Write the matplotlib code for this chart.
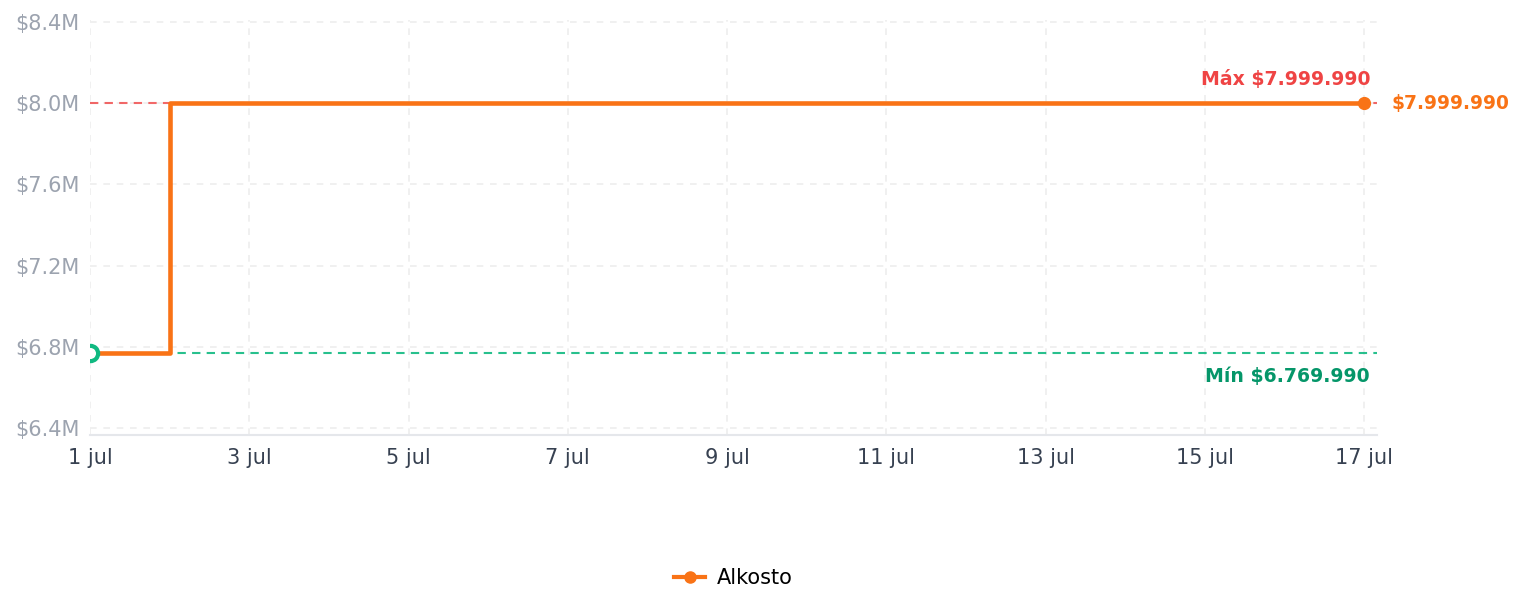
import matplotlib
matplotlib.use("Agg")
import matplotlib.pyplot as plt
import matplotlib.dates as mdates
from matplotlib.lines import Line2D
import pandas as pd

# Data
dates = pd.to_datetime(["2025-07-01", "2025-07-02", "2025-07-17"])
prices = [6769990, 7999990, 7999990]
store = "Alkosto"
min_price = 6769990
max_price = 7999990
yticks = [6.4e6, 6.8e6, 7.2e6, 7.6e6, 8.0e6, 8.4e6]

def money(v):
    return "$" + f"{v:,.0f}".replace(",", ".")

orange = "#f97316"
red = "#ef4444"
green_line = "#10b981"
green_text = "#059669"

fig = plt.figure(figsize=(15.25, 6.13), dpi=100)
ax = fig.add_axes([90 / 1525, 1 - 435 / 613, (1377 - 90) / 1525, (435 - 20) / 613])

# min / max reference lines
ax.axhline(max_price, color=red, lw=1.5, ls=(0, (4, 3)), alpha=0.8, zorder=2)
ax.axhline(min_price, color=green_line, lw=1.5, ls=(0, (4, 3)), alpha=0.9, zorder=2)

# price line
ax.plot(dates, prices, drawstyle="steps-post", color=orange, lw=3.3, zorder=3)
ax.plot(dates[0], prices[0], "o", ms=11, mfc="white", mec=green_line, mew=3, zorder=4)
ax.plot(dates[-1], prices[-1], "o", ms=8.5, color=orange, zorder=5, clip_on=False)

# labels
ax.annotate(f"Máx {money(max_price)}", (dates[-1], max_price), xytext=(6, 24),
            textcoords="offset pixels", ha="right", va="center",
            color=red, fontsize=13.6, fontweight="bold")
ax.annotate(f"Mín {money(min_price)}", (dates[-1], min_price), xytext=(6, -24),
            textcoords="offset pixels", ha="right", va="center",
            color=green_text, fontsize=13.6, fontweight="bold")
ax.annotate(money(prices[-1]), (dates[-1], prices[-1]), xytext=(27, 0),
            textcoords="offset pixels", ha="left", va="center",
            color=orange, fontsize=13.4, fontweight="bold", annotation_clip=False)

# axes styling
ax.set_xlim(dates[0], dates[-1] + pd.Timedelta(hours=3.9))
ax.set_ylim(6.3655e6, 8.41e6)
ax.set_yticks(yticks)
ax.yaxis.set_major_formatter(plt.FuncFormatter(lambda v, p: f"${v / 1e6:.1f}M"))
ax.xaxis.set_major_locator(mdates.DayLocator(bymonthday=range(1, 32, 2)))
ax.xaxis.set_major_formatter(plt.FuncFormatter(
    lambda v, p: f"{mdates.num2date(v).day} jul"))
ax.tick_params(axis="y", length=0, pad=7.4, labelsize=15, labelcolor="#9ca3af")
ax.tick_params(axis="x", length=0, pad=9, labelsize=15, labelcolor="#374151")
for s in ["top", "right", "left"]:
    ax.spines[s].set_visible(False)
ax.spines["bottom"].set_color("#e5e7eb")
ax.spines["bottom"].set_linewidth(1.5)
ax.grid(True, color="#eeeeee", ls=(0, (4, 4)), lw=1.2, zorder=0)

handle = Line2D([], [], color=orange, lw=3, marker="o", ms=8)
fig.legend([handle], [store], loc="center", bbox_to_anchor=(0.481, 1 - 578 / 613),
           frameon=False, fontsize=15, handlelength=1.5, handletextpad=0.55)

fig.savefig("out.png", dpi=100)
